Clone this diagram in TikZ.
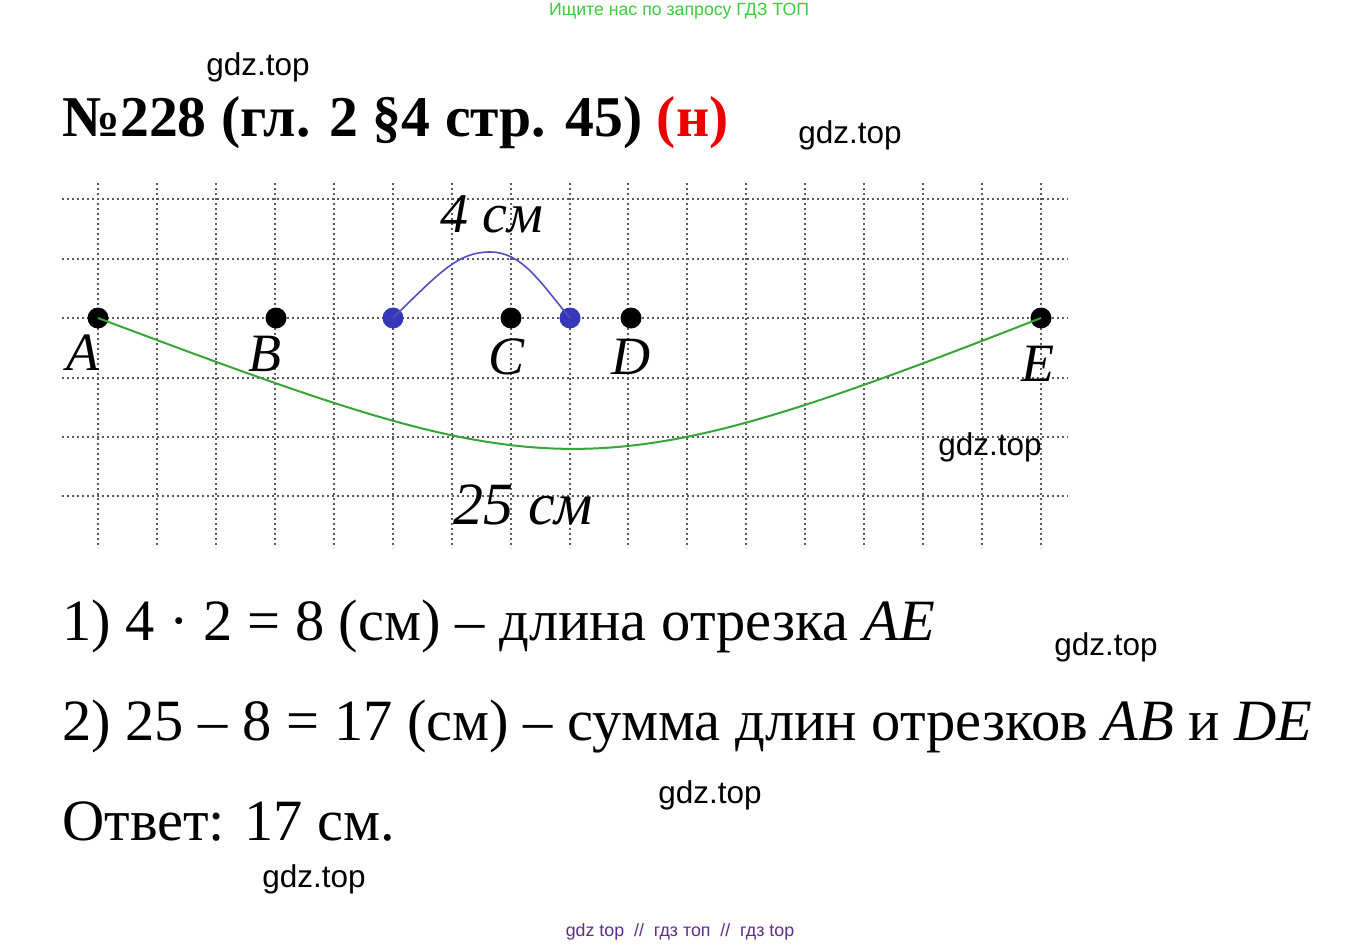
\documentclass[tikz,border=0pt]{standalone}
\usepackage{fontspec}
\setmainfont{Liberation Serif}
\newfontfamily\wmfont{Liberation Sans}
\usetikzlibrary{backgrounds}
\definecolor{ptblue}{RGB}{55,55,185}
\definecolor{arcblue}{RGB}{80,80,190}
\definecolor{arcgreen}{RGB}{55,165,55}
\definecolor{topgreen}{RGB}{60,205,60}
\definecolor{footviolet}{RGB}{95,45,135}
\definecolor{titlered}{RGB}{235,0,0}
\tikzset{
  gridline/.style={dash pattern=on 2pt off 3pt, line width=2pt, black!65},
  pt/.style={circle, fill=black, inner sep=0pt, minimum size=21pt},
  bpt/.style={circle, fill=ptblue, inner sep=0pt, minimum size=21pt},
  lbl/.style={font=\fontsize{54}{54}\selectfont\itshape, inner sep=0pt},
  wm/.style={font=\wmfont\fontsize{31.5}{31.5}\selectfont, inner sep=0pt},
  ans/.style={font=\fontsize{58.5}{58.5}\selectfont, anchor=base west, inner sep=0pt},
}
\begin{document}
\begin{tikzpicture}[x=1pt,y=-1pt]
  \useasboundingbox[fill=white] (0,0) rectangle (1360,947);
  \node[font=\wmfont\fontsize{17.7}{17.7}\selectfont, text=topgreen, inner sep=0pt] (top) at (679,11) {Ищите нас по запросу ГДЗ ТОП};
  \node[font=\fontsize{57.7}{57.7}\selectfont\bfseries, anchor=base west, inner sep=0pt] (title) at (62,137) {№228 (гл. 2 §4 стр. 45) \textcolor{titlered}{(н)}};
  \foreach \i in {0,...,16} \draw[gridline] ({98+58.94*\i},183) -- ({98+58.94*\i},548);
  \foreach \y in {199,259,318,378,437,496} \draw[gridline] (62,\y) -- (1068,\y);
  \node[pt] (A) at (98,318) {};
  \node[pt] (B) at (276,318) {};
  \node[bpt] (P) at (393,318) {};
  \node[pt] (C) at (511,318) {};
  \node[bpt] (Q) at (570,318) {};
  \node[pt] (D) at (631,318) {};
  \node[pt] (E) at (1041,318) {};
  \begin{scope}[on background layer]
    \draw[line width=2.6pt] (A.center) -- (E.center);
  \end{scope}
  \draw[arcblue, line width=1.6pt] (P.center) .. controls (440,272) and (458,252) .. (490,252) .. controls (522,252) and (540,282) .. (Q.center);
  \draw[arcgreen, line width=2pt] (A.center) .. controls (554,489) and (585,496) .. (E.center);
  \node[lbl] (lA) at (83,353) {A};
  \node[lbl] (lB) at (265,354) {B};
  \node[lbl] (lC) at (507,357) {C};
  \node[lbl] (lD) at (631,357) {D};
  \node[lbl] (lE) at (1038,364) {E};
  \node[lbl, font=\fontsize{56}{56}\selectfont\itshape] (l4) at (492,214) {4 см};
  \node[lbl, font=\fontsize{60}{60}\selectfont\itshape] (l25) at (523,505) {25 см};
  \node[ans] (s1) at (62,640) {1) 4 · 2 = 8 (см) – длина отрезка \textit{AE}};
  \node[ans] (s2) at (62,740) {2) 25 – 8 = 17 (см) – сумма длин отрезков \textit{AB} и \textit{DE}};
  \node[ans] (s3) at (62,840) {Ответ: 17 см.};
  \node[wm] (w1) at (258,67) {gdz.top};
  \node[wm] (w2) at (850,135) {gdz.top};
  \node[wm] (w3) at (990,447) {gdz.top};
  \node[wm] (w4) at (1106,647) {gdz.top};
  \node[wm] (w5) at (710,795) {gdz.top};
  \node[wm] (w6) at (314,879) {gdz.top};
  \node[font=\wmfont\fontsize{17.8}{17.8}\selectfont, text=footviolet, inner sep=0pt] (foot) at (680,932) {gdz top \ // \ гдз топ \ // \ гдз top};
\end{tikzpicture}
\end{document}
